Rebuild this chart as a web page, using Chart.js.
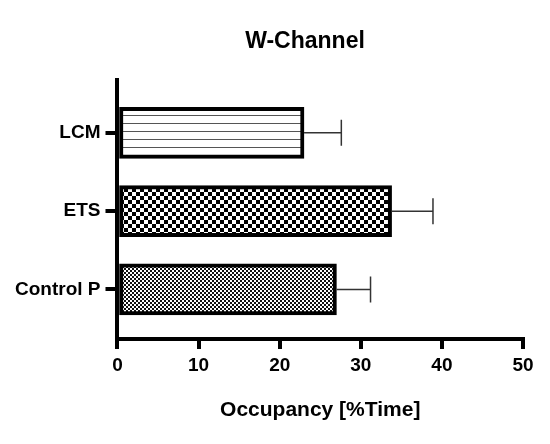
<!DOCTYPE html>
<html>
<head>
<meta charset="utf-8">
<script src="https://cdn.jsdelivr.net/npm/chart.js@4.4.0/dist/chart.umd.min.js"></script>
<style>
html,body{margin:0;padding:0;background:#fff;}
#wrap{width:550px;height:444px;}
</style>
</head>
<body>
<div id="wrap"><canvas id="c" width="550" height="444"></canvas></div>
<script>
const categories = ["Control P", "ETS", "LCM"];
const occupancy = [27.0, 33.8, 23.0];
const errors = [4.2, 5.1, 4.6];
const xTicks = [0, 10, 20, 30, 40, 50];

function makePattern(kind) {
  const c = document.createElement('canvas');
  const ctx = c.getContext('2d');
  if (kind === 'lines') {
    c.width = 8; c.height = 8;
    ctx.fillStyle = '#fff'; ctx.fillRect(0, 0, 8, 8);
    ctx.fillStyle = '#555'; ctx.fillRect(0, 3, 8, 1);
  } else if (kind === 'check4') {
    c.width = 8; c.height = 8;
    ctx.fillStyle = '#fff'; ctx.fillRect(0, 0, 8, 8);
    ctx.fillStyle = '#000'; ctx.fillRect(0, 0, 4, 4); ctx.fillRect(4, 4, 4, 4);
  } else {
    c.width = 4; c.height = 4;
    ctx.fillStyle = '#fff'; ctx.fillRect(0, 0, 4, 4);
    ctx.fillStyle = '#111'; ctx.fillRect(0, 0, 2, 2); ctx.fillRect(2, 2, 2, 2);
  }
  return document.getElementById('c').getContext('2d').createPattern(c, 'repeat');
}
const fills = [makePattern('check2'), makePattern('check4'), makePattern('lines')];

const errorBars = {
  id: 'errorBars',
  afterDatasetsDraw(chart) {
    const ctx = chart.ctx;
    const xs = chart.scales.x, ys = chart.scales.y;
    ctx.save();
    ctx.strokeStyle = '#333';
    ctx.lineWidth = 1.5;
    occupancy.forEach((v, i) => {
      const x0 = xs.getPixelForValue(v);
      const x1 = xs.getPixelForValue(v + errors[i]);
      const y = ys.getPixelForValue(i);
      ctx.beginPath();
      ctx.moveTo(x0, y); ctx.lineTo(x1, y);
      ctx.moveTo(x1, y - 13); ctx.lineTo(x1, y + 13);
      ctx.stroke();
    });
    ctx.restore();
  }
};

const titleShift = {
  id: 'titleShift',
  beforeDraw(chart) {
    const t = chart.titleBlock;
    if (t) { t.left = 0; t.right = 610; }
  }
};

new Chart(document.getElementById('c'), {
  type: 'bar',
  data: {
    datasets: [{
      data: occupancy.map((v, i) => ({ x: v, y: i })),
      backgroundColor: fills,
      borderColor: '#000',
      borderWidth: 4,
      borderSkipped: false,
      barThickness: 51
    }]
  },
  options: {
    indexAxis: 'y',
    responsive: false,
    animation: false,
    layout: { padding: { left: 10, right: 27, top: 0, bottom: 21 } },
    plugins: {
      legend: { display: false },
      tooltip: { enabled: false },
      title: {
        display: true,
        text: 'W-Channel',
        color: '#000',
        font: { family: 'Liberation Sans, Arial', size: 23, weight: 'bold' },
        padding: { top: 28, bottom: 24 }
      }
    },
    scales: {
      x: {
        type: 'linear',
        min: 0, max: 50,
        afterBuildTicks: (s) => { s.ticks = xTicks.map(v => ({ value: v })); },
        grid: { drawOnChartArea: false, drawTicks: true, tickLength: 10, color: '#000', lineWidth: 4 },
        border: { display: true, color: '#000', width: 4 },
        ticks: { color: '#000', font: { family: 'Liberation Sans, Arial', size: 19, weight: 'bold' }, padding: 5, maxRotation: 0 },
        title: {
          display: true, text: 'Occupancy [%Time]', color: '#000',
          font: { family: 'Liberation Sans, Arial', size: 21, weight: 'bold' },
          padding: { top: 16, bottom: 0 }
        }
      },
      y: {
        type: 'linear',
        offset: false,
        min: -0.633, max: 2.68,
        afterBuildTicks: (s) => { s.ticks = categories.map((c, i) => ({ value: i })); },
        grid: { offset: false, drawOnChartArea: false, drawTicks: true, tickLength: 12, color: '#000', lineWidth: 4 },
        border: { display: true, color: '#000', width: 4 },
        ticks: {
          color: '#000',
          font: { family: 'Liberation Sans, Arial', size: 19, weight: 'bold' },
          padding: 5,
          callback: (v) => categories[v]
        }
      }
    }
  },
  plugins: [errorBars, titleShift]
});
</script>
</body>
</html>
